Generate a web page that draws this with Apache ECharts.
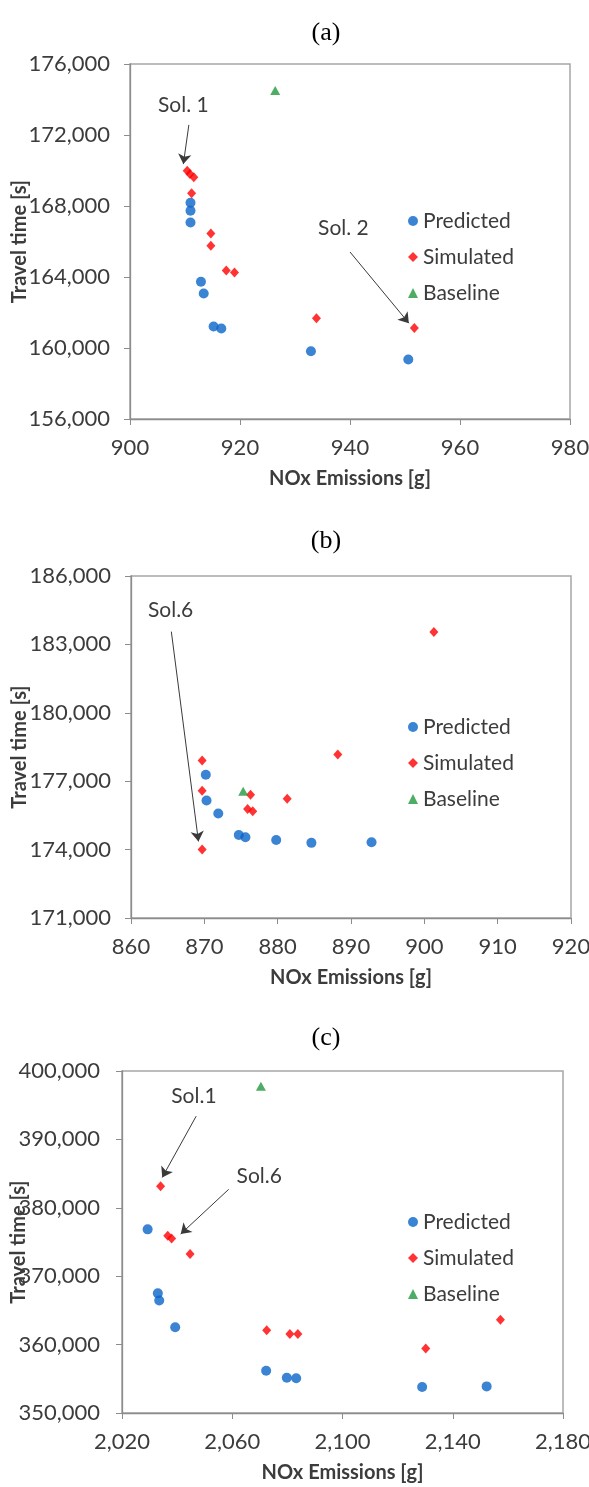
<!DOCTYPE html>
<html>
<head>
<meta charset="utf-8">
<script src="https://cdn.jsdelivr.net/npm/echarts@6/dist/echarts.min.js"></script>
<style>
  html, body { margin: 0; padding: 0; background: #fff; }
  #chart { width: 589px; height: 1487px; }
</style>
</head>
<body>
<div id="chart"></div>
<script>
// panel (a)
const predictedA = [[950.6, 159350], [932.9, 159820], [915.2, 161210], [916.6, 161100], [912.9, 163730],
  [913.4, 163070], [911.0, 167066], [911.0, 168180], [911.0, 167730]]
const simulatedA = [[910.4, 169980], [910.9, 169800], [911.6, 169626], [911.2, 168724], [914.7, 166450],
  [914.7, 165760], [917.5, 164370], [919.0, 164260], [933.9, 161680], [951.7, 161120]]
const baselineA = [[926.4, 174510]]
// [text, text x, text y, arrow start x, y, arrow end x, y]
const notesA = [['Sol. 1', 909.7, 173700, 910.7, 172570, 909.7, 170360],
  ['Sol. 2', 938.8, 166760, 940.0, 165410, 950.7, 161400]]

// panel (b)
const predictedB = [[870.2, 177281], [870.3, 176155], [871.9, 175585], [874.7, 174640], [875.6, 174545],
  [879.8, 174418], [884.6, 174295], [892.8, 174320]]
const simulatedB = [[869.7, 177909], [869.7, 176580], [869.7, 174008], [876.3, 176404], [875.9, 175777],
  [876.6, 175680], [881.3, 176229], [888.2, 178172], [901.3, 183546]]
const baselineB = [[875.3, 176560]]
const notesB = [['Sol.6', 865.4, 184510, 865.5, 183560, 869.2, 174360]]

// panel (c)
const predictedC = [[2029.3, 376850], [2033.0, 367490], [2033.5, 366435], [2039.3, 362530], [2072.3, 356175],
  [2079.8, 355150], [2083.2, 355080], [2128.9, 353794], [2152.3, 353890]]
const simulatedC = [[2034.0, 383150], [2036.6, 375920], [2038.0, 375500], [2044.7, 373249], [2072.5, 362112],
  [2080.9, 361550], [2083.8, 361550], [2130.2, 359436], [2157.3, 363619]]
const baselineC = [[2070.4, 397763]]
const notesC = [['Sol.1', 2046.1, 396310, 2046.9, 393390, 2034.6, 384445],
  ['Sol.6', 2069.8, 384680, 2058.7, 382694, 2041.3, 376171]]

const titles = ['(a)', '(b)', '(c)']
const legendNames = ['Predicted', 'Simulated', 'Baseline']
const xRanges = [[900, 980, 20], [860, 920, 10], [2020, 2180, 40]]
const yRanges = [[156000, 176000, 4000], [171000, 186000, 3000], [350000, 400000, 10000]]

const font = 'Lato'
const textColor = '#3c3c3c'
const axisGray = '#8c8c8c'

const grids = [
  { left: 130, top: 64, width: 440, height: 355, titleY: 15, legendTop: 205, yGap: 100, yMargin: 20 },
  { left: 131, top: 576, width: 440, height: 342, titleY: 523, legendTop: 711, yGap: 101, yMargin: 20 },
  { left: 122, top: 1071, width: 441, height: 342, titleY: 1020, legendTop: 1206, yGap: 93, yMargin: 22 }
]

const panels = [
  [predictedA, simulatedA, baselineA, notesA],
  [predictedB, simulatedB, baselineB, notesB],
  [predictedC, simulatedC, baselineC, notesC]
]

const fmt = v => v.toLocaleString('en-US')

const chart = echarts.init(document.getElementById('chart'), null, { renderer: 'canvas' })

const series = []
panels.forEach((p, i) => {
  const [pred, sim, base, notes] = p
  series.push({
    name: 'Predicted', type: 'scatter', xAxisIndex: i, yAxisIndex: i,
    symbol: 'circle', symbolSize: 10, itemStyle: { color: '#0a64c8' }, data: pred
  })
  series.push({
    name: 'Simulated', type: 'scatter', xAxisIndex: i, yAxisIndex: i,
    symbol: 'diamond', symbolSize: [9, 10], itemStyle: { color: '#ff0000' }, data: sim
  })
  series.push({
    name: 'Baseline', type: 'scatter', xAxisIndex: i, yAxisIndex: i,
    symbol: 'triangle', symbolSize: [10, 9], itemStyle: { color: '#20993f' }, data: base
  })
  // annotation text + arrows
  series.push({
    name: 'notes' + i, type: 'scatter', xAxisIndex: i, yAxisIndex: i,
    symbol: 'circle', symbolSize: 1, silent: true,
    itemStyle: { color: '#ffffff' },
    label: {
      show: true, position: 'inside', formatter: d => d.data[2],
      fontFamily: font, fontSize: 21, color: textColor, opacity: 1, textBorderWidth: 0
    },
    data: notes.map(n => [n[1], n[2], n[0]]),
    markLine: {
      silent: true,
      symbol: ['none', 'arrow'],
      symbolSize: 10,
      label: { show: false },
      lineStyle: { color: '#3a3a3a', width: 1, type: 'solid', opacity: 1 },
      data: notes.map(n => [{ coord: [n[3], n[4]] }, { coord: [n[5], n[6]] }])
    }
  })
})

const option = {
  animation: false,
  backgroundColor: '#fff',
  title: grids.map((g, i) => ({
    text: titles[i],
    left: 321,
    top: g.titleY,
    textAlign: 'center',
    textStyle: { fontFamily: 'Liberation Serif', fontSize: 26, fontWeight: 'normal', color: '#000' }
  })),
  legend: grids.map(g => ({
    data: legendNames,
    orient: 'vertical',
    left: 403,
    top: g.legendTop,
    itemWidth: 10,
    itemHeight: 10,
    itemGap: 14,
    selectedMode: false,
    textStyle: { fontFamily: font, fontSize: 21, lineHeight: 22, color: textColor }
  })),
  grid: grids.map(g => ({
    left: g.left, top: g.top, width: g.width, height: g.height,
    outerBoundsMode: 'none', containLabel: false,
    show: true, borderColor: '#a6a6a6', borderWidth: 1.5, backgroundColor: 'transparent'
  })),
  xAxis: grids.map((g, i) => ({
    type: 'value', gridIndex: i,
    min: xRanges[i][0], max: xRanges[i][1], interval: xRanges[i][2],
    name: 'NOx Emissions [g]', nameLocation: 'middle', nameGap: 50, nameMoveOverlap: false,
    nameTextStyle: { fontFamily: font, fontSize: 20, fontWeight: 'bold', color: textColor },
    axisLine: { show: true, onZero: false, lineStyle: { color: axisGray, width: 1.3 } },
    axisTick: { show: true, length: 6, lineStyle: { color: axisGray } },
    axisLabel: { margin: 18, fontFamily: font, fontSize: 22, color: textColor, formatter: fmt },
    splitLine: { show: false }
  })),
  yAxis: grids.map((g, i) => ({
    type: 'value', gridIndex: i,
    min: yRanges[i][0], max: yRanges[i][1], interval: yRanges[i][2],
    name: 'Travel time [s]', nameLocation: 'middle', nameGap: g.yGap, nameMoveOverlap: false,
    nameTextStyle: { fontFamily: font, fontSize: 20, fontWeight: 'bold', color: textColor },
    axisLine: { show: true, onZero: false, lineStyle: { color: axisGray, width: 1.3 } },
    axisTick: { show: true, length: 6, lineStyle: { color: axisGray } },
    axisLabel: { margin: g.yMargin, fontFamily: font, fontSize: 22, color: textColor, formatter: fmt },
    splitLine: { show: false }
  })),
  series: series
}

chart.setOption(option)
</script>
</body>
</html>
